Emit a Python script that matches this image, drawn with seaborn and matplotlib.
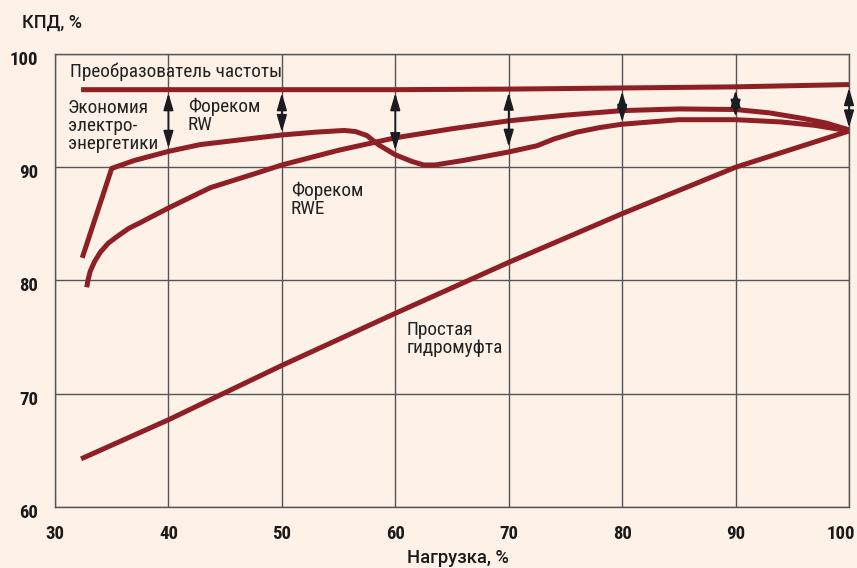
import numpy as np
import pandas as pd
import matplotlib
matplotlib.use("Agg")
import matplotlib.pyplot as plt
import matplotlib.transforms as mtransforms
from matplotlib import font_manager as fm
import seaborn as sns

# --- data ---
conv_x = [32.3, 40, 50, 60, 70, 80, 90, 100]
conv_y = [96.85, 96.85, 96.85, 96.85, 96.9, 97.0, 97.1, 97.3]

rw_x = [32.4, 35.0, 37, 40, 42.8, 47, 50, 53, 55.5, 56.5, 57.5, 58.5, 60, 61.5, 62.5, 63.5,
        66, 70, 72.5, 74, 76, 78, 80, 85, 90, 94, 97, 100]
rw_y = [82.0, 89.9, 90.6, 91.4, 92.0, 92.5, 92.85, 93.1, 93.25, 93.15, 92.8, 92.0, 91.1, 90.5,
        90.2, 90.2, 90.6, 91.35, 91.9, 92.5, 93.1, 93.5, 93.8, 94.2, 94.2, 94.0, 93.7, 93.2]

rwe_x = [32.8, 32.9, 33.1, 33.5, 34.0, 34.7, 35.5, 36.5, 37.5, 40, 43.7, 47.2, 50, 55, 60,
         65, 70, 75, 80, 85, 90, 93, 96, 98, 100]
rwe_y = [79.4, 80.0, 80.8, 81.7, 82.5, 83.3, 83.9, 84.6, 85.1, 86.4, 88.2, 89.3, 90.2, 91.5,
         92.6, 93.4, 94.1, 94.6, 95.0, 95.15, 95.1, 94.8, 94.3, 93.9, 93.3]

fluid_x = [32.3, 40, 50, 60, 70, 80, 90, 100]
fluid_y = [64.25, 67.7, 72.5, 77.1, 81.6, 85.9, 90.0, 93.2]

arrow_x = [40, 50, 60, 70, 80, 90, 100]
arrow_top = [96.55, 96.55, 96.55, 96.6, 96.7, 96.8, 97.0]
arrow_bottom = [91.7, 93.1, 91.5, 91.8, 94.0, 94.45, 93.5]

x_ticks = [30, 40, 50, 60, 70, 80, 90, 100]
y_ticks = [60, 70, 80, 90, 100]

bg = "#fdf1e8"
red = "#8e1f24"
grid_c = "#555555"

# pick an installed narrow family with Cyrillic
have = set(f.name for f in fm.fontManager.ttflist)
narrow = "DejaVu Sans"
for name in ["Roboto Condensed", "PT Sans Narrow", "Fira Sans Condensed",
             "IBM Plex Sans Condensed", "Open Sans Condensed"]:
    if name in have:
        narrow = name
        break
fam = [narrow, "DejaVu Sans"]
wide = ["Roboto", "DejaVu Sans"]

sns.set_theme(style="white")
plt.rcParams["font.family"] = fam

fig = plt.figure(figsize=(8.57, 5.68), dpi=100, facecolor=bg)
ax = fig.add_axes([55/857, 1-507/568, 794/857, 453/568])
ax.set_facecolor(bg)

for xs, ys in [(fluid_x, fluid_y), (rwe_x, rwe_y), (rw_x, rw_y), (conv_x, conv_y)]:
    df = pd.DataFrame({"x": xs, "y": ys})
    sns.lineplot(data=df, x="x", y="y", sort=False, estimator=None, color=red, lw=3.6,
                 ax=ax, zorder=3, solid_joinstyle="round", solid_capstyle="butt")

for x, t, b in zip(arrow_x, arrow_top, arrow_bottom):
    ax.annotate("", xy=(x, b), xytext=(x, t),
                arrowprops=dict(arrowstyle="<|-|>,head_length=0.85,head_width=0.25",
                                color="#1b1b22", lw=1.3, shrinkA=0, shrinkB=0),
                zorder=5, annotation_clip=False)

ax.set_xlim(30, 100)
ax.set_ylim(60, 100)
ax.set_xticks(x_ticks)
ax.set_yticks(y_ticks)
ax.grid(True, color=grid_c, lw=1.0)
ax.set_axisbelow(True)
for s in ax.spines.values():
    s.set_visible(True)
    s.set_color(grid_c)
    s.set_linewidth(1.0)
ax.tick_params(axis="x", length=0, pad=13, labelsize=13.5, labelcolor="#1a1a1a")
ax.tick_params(axis="y", length=0, pad=12, labelsize=13.5, labelcolor="#1a1a1a")
for lab in ax.get_xticklabels() + ax.get_yticklabels():
    lab.set_fontweight("bold")
# y labels sit a little below their grid lines, last x label pulled inside
down = mtransforms.ScaledTranslation(0, -4/100, fig.dpi_scale_trans)
for lab in ax.get_yticklabels():
    lab.set_transform(lab.get_transform() + down)
last = ax.get_xticklabels()[-1]
last.set_horizontalalignment("right")
last.set_transform(last.get_transform() + mtransforms.ScaledTranslation(6/100, 0, fig.dpi_scale_trans))
ax.set_xlabel("")
ax.set_ylabel("")

txt = dict(color="#222222", fontsize=15, linespacing=1.0, va="center", ha="left")
labels = [ax.text(31.3, 98.4, "Преобразователь частоты", **txt),
          ax.text(31.15, 93.6, "Экономия\nэлектро-\nэнергетики", **txt),
          ax.text(41.7, 94.5, "Фореком\nRW", **txt),
          ax.text(50.8, 87.1, "Фореком\nRWE", **txt),
          ax.text(61.0, 74.85, "Простая\nгидромуфта", **txt)]

ylab = fig.text(22/857, 1-23/568, "КПД, %", family=wide, fontweight="medium",
                fontsize=13, color="#1a1a1a", ha="left", va="center")
xlab = fig.text(458/857, 1-558/568, "Нагрузка, %", family=wide, fontweight="medium",
                fontsize=13, color="#1a1a1a", ha="center", va="center")

# scale the label fonts toward the reference widths (pixels)
rend = fig.canvas.get_renderer()
w = labels[0].get_window_extent(rend).width
k = min(1.0, 195 / w)
for t in labels:
    t.set_fontsize(15 * (1 + k) / 2)
for t, target in [(ylab, 60), (xlab, 101)]:
    w = t.get_window_extent(rend).width
    t.set_fontsize(13 * min(1.15, max(0.85, target / w)))

fig.savefig("out.png", dpi=100, facecolor=bg)
